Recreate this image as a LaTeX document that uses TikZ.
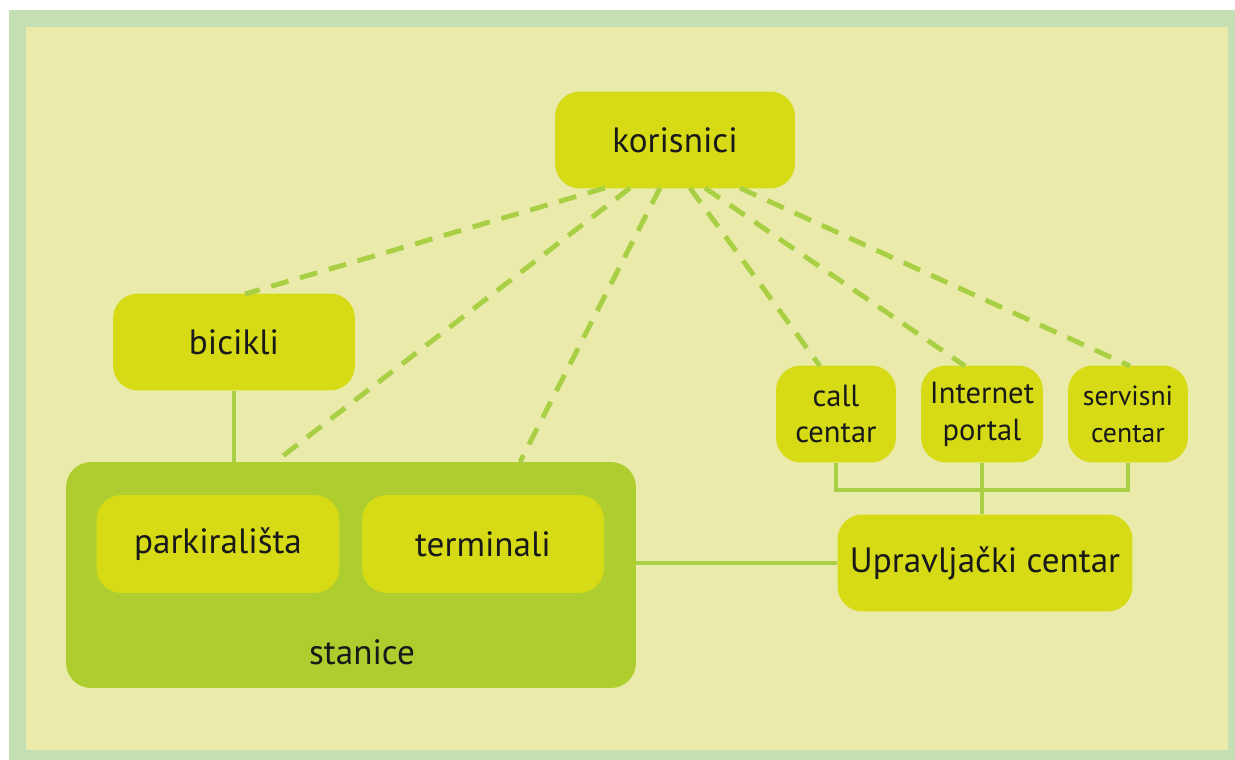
\documentclass[tikz,border=0pt]{standalone}
\usepackage{fontspec}
\setmainfont{PT Sans}
\usepackage{xcolor}
\usetikzlibrary{positioning}

\definecolor{framegreen}{HTML}{C5DFB5}
\definecolor{paper}{HTML}{EAEBAA}
\definecolor{boxfill}{HTML}{D6DB16}
\definecolor{stationfill}{HTML}{AECD2F}
\definecolor{linkgreen}{HTML}{A9CF45}

\tikzset{
    box/.style={rectangle, rounded corners=0.5cm, fill=boxfill, text=black!90, align=center,
        minimum width=4.8cm, minimum height=1.94cm, inner sep=0pt, font=\fontsize{20}{24}\selectfont},
    smallbox/.style={box, minimum width=2.4cm, font=\fontsize{17.4}{21}\selectfont},
    link/.style={draw=linkgreen, line width=2.3pt},
    dashlink/.style={draw=linkgreen, line width=2.8pt, dash pattern=on 0.36cm off 0.24cm}
}

\begin{document}
\begin{tikzpicture}[x=0.02cm, y=-0.02cm]
    \useasboundingbox (0,0) rectangle (1235,760);
    \fill[white] (0,0) rectangle (1235,760);
    \fill[framegreen] (9,10) rectangle (1235,760);
    \fill[paper] (26,27) rectangle (1228,750);

    % stations block
    \node[rectangle, rounded corners=0.5cm, fill=stationfill, minimum width=11.4cm, minimum height=4.52cm] (stanice) at (351, 575) {};
    \node[font=\fontsize{20}{24}\selectfont, text=black!90] (stanicelbl) at (362, 652) {stanice};
    \node[box, minimum width=4.86cm, minimum height=1.96cm] (parkiralista) at (218, 544) {parkirališta};
    \node[box, minimum width=4.84cm, minimum height=1.96cm] (terminali) at (483, 544) {terminali};

    \node[box] (korisnici) at (675, 140) {korisnici};
    \node[box, minimum width=4.84cm] (bicikli) at (234, 342) {bicikli};

    \node[smallbox] (call) at (836, 414) {call\\centar};
    \node[smallbox, minimum width=2.44cm] (portal) at (982, 414) {Internet\\portal};
    \node[smallbox, font=\fontsize{15.8}{21}\selectfont] (servis) at (1128, 414) {servisni\\centar};
    \node[box, minimum width=5.9cm] (upravljacki) at (985, 563) {Upravljački centar};

    % solid links
    \draw[link] (bicikli.south) -- (bicikli.south |- stanice.north);
    \draw[link] (stanice.east |- upravljacki.west) -- (upravljacki.west);
    \draw[link] (call.south) -- ++(0,27) -| (servis.south);
    \draw[link] (portal.south) -- (portal.south |- upravljacki.north);

    % dashed links to users
    \coordinate (k1) at (605,188);
    \coordinate (k2) at (630,188);
    \coordinate (k3) at (660,188);
    \coordinate (k4) at (690,188);
    \coordinate (k5) at (705,188);
    \coordinate (k6) at (740,188);
    \draw[dashlink] (k1) -- (245,294);
    \draw[dashlink] (k2) -- (275,462);
    \draw[dashlink] (k3) -- (520,462);
    \draw[dashlink] (k4) -- (820,366);
    \draw[dashlink] (k5) -- (965,366);
    \draw[dashlink] (k6) -- (1130,366);
\end{tikzpicture}
\end{document}
